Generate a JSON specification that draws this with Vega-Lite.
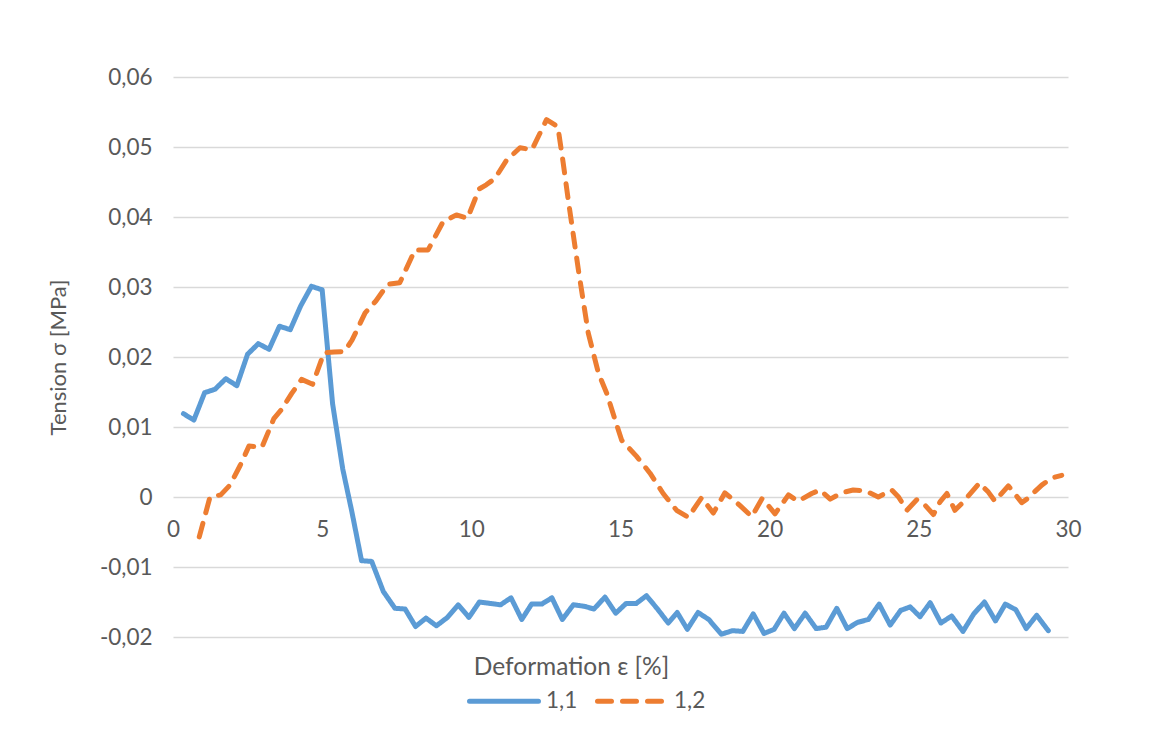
{
  "$schema": "https://vega.github.io/schema/vega-lite/v6.json",
  "width": 895,
  "height": 560,
  "autosize": "none",
  "padding": {"left": 173, "top": 77, "right": 81, "bottom": 98},
  "background": "white",
  "config": {
    "view": {"stroke": null},
    "font": "Lato",
    "axis": {"labelColor": "#595959", "titleColor": "#595959", "labelFont": "Lato", "titleFont": "Lato", "titleFontWeight": "normal"},
    "legend": {"labelColor": "#595959", "labelFont": "Lato"}
  },
  "data": {"values": [
    {"s": "1,1", "x": 0.35, "y": 0.0119},
    {"s": "1,1", "x": 0.70, "y": 0.0110},
    {"s": "1,1", "x": 1.06, "y": 0.0149},
    {"s": "1,1", "x": 1.41, "y": 0.0154},
    {"s": "1,1", "x": 1.77, "y": 0.0169},
    {"s": "1,1", "x": 2.14, "y": 0.0159},
    {"s": "1,1", "x": 2.50, "y": 0.0204},
    {"s": "1,1", "x": 2.86, "y": 0.0219},
    {"s": "1,1", "x": 3.22, "y": 0.0211},
    {"s": "1,1", "x": 3.57, "y": 0.0244},
    {"s": "1,1", "x": 3.93, "y": 0.0239},
    {"s": "1,1", "x": 4.28, "y": 0.0273},
    {"s": "1,1", "x": 4.64, "y": 0.0301},
    {"s": "1,1", "x": 5.00, "y": 0.0296},
    {"s": "1,1", "x": 5.35, "y": 0.0133},
    {"s": "1,1", "x": 5.69, "y": 0.0040},
    {"s": "1,1", "x": 6.00, "y": -0.0022},
    {"s": "1,1", "x": 6.32, "y": -0.0091},
    {"s": "1,1", "x": 6.66, "y": -0.0092},
    {"s": "1,1", "x": 7.05, "y": -0.0135},
    {"s": "1,1", "x": 7.44, "y": -0.0159},
    {"s": "1,1", "x": 7.78, "y": -0.0160},
    {"s": "1,1", "x": 8.13, "y": -0.0185},
    {"s": "1,1", "x": 8.48, "y": -0.0173},
    {"s": "1,1", "x": 8.83, "y": -0.0184},
    {"s": "1,1", "x": 9.20, "y": -0.0172},
    {"s": "1,1", "x": 9.56, "y": -0.0154},
    {"s": "1,1", "x": 9.92, "y": -0.0172},
    {"s": "1,1", "x": 10.27, "y": -0.0150},
    {"s": "1,1", "x": 10.62, "y": -0.0152},
    {"s": "1,1", "x": 10.98, "y": -0.0154},
    {"s": "1,1", "x": 11.33, "y": -0.0144},
    {"s": "1,1", "x": 11.69, "y": -0.0175},
    {"s": "1,1", "x": 12.02, "y": -0.0153},
    {"s": "1,1", "x": 12.36, "y": -0.0153},
    {"s": "1,1", "x": 12.70, "y": -0.0144},
    {"s": "1,1", "x": 13.05, "y": -0.0175},
    {"s": "1,1", "x": 13.42, "y": -0.0154},
    {"s": "1,1", "x": 13.77, "y": -0.0156},
    {"s": "1,1", "x": 14.11, "y": -0.0160},
    {"s": "1,1", "x": 14.48, "y": -0.0143},
    {"s": "1,1", "x": 14.84, "y": -0.0166},
    {"s": "1,1", "x": 15.19, "y": -0.0152},
    {"s": "1,1", "x": 15.53, "y": -0.0152},
    {"s": "1,1", "x": 15.87, "y": -0.0141},
    {"s": "1,1", "x": 16.24, "y": -0.0160},
    {"s": "1,1", "x": 16.60, "y": -0.0180},
    {"s": "1,1", "x": 16.90, "y": -0.0165},
    {"s": "1,1", "x": 17.24, "y": -0.0189},
    {"s": "1,1", "x": 17.60, "y": -0.0165},
    {"s": "1,1", "x": 17.96, "y": -0.0175},
    {"s": "1,1", "x": 18.38, "y": -0.0196},
    {"s": "1,1", "x": 18.75, "y": -0.0191},
    {"s": "1,1", "x": 19.10, "y": -0.0192},
    {"s": "1,1", "x": 19.45, "y": -0.0167},
    {"s": "1,1", "x": 19.81, "y": -0.0195},
    {"s": "1,1", "x": 20.15, "y": -0.0189},
    {"s": "1,1", "x": 20.48, "y": -0.0166},
    {"s": "1,1", "x": 20.83, "y": -0.0188},
    {"s": "1,1", "x": 21.19, "y": -0.0166},
    {"s": "1,1", "x": 21.56, "y": -0.0188},
    {"s": "1,1", "x": 21.89, "y": -0.0186},
    {"s": "1,1", "x": 22.25, "y": -0.0159},
    {"s": "1,1", "x": 22.60, "y": -0.0188},
    {"s": "1,1", "x": 22.95, "y": -0.0179},
    {"s": "1,1", "x": 23.31, "y": -0.0175},
    {"s": "1,1", "x": 23.67, "y": -0.0153},
    {"s": "1,1", "x": 24.04, "y": -0.0183},
    {"s": "1,1", "x": 24.39, "y": -0.0162},
    {"s": "1,1", "x": 24.71, "y": -0.0157},
    {"s": "1,1", "x": 25.04, "y": -0.0171},
    {"s": "1,1", "x": 25.38, "y": -0.0151},
    {"s": "1,1", "x": 25.74, "y": -0.0180},
    {"s": "1,1", "x": 26.10, "y": -0.0170},
    {"s": "1,1", "x": 26.48, "y": -0.0192},
    {"s": "1,1", "x": 26.84, "y": -0.0167},
    {"s": "1,1", "x": 27.20, "y": -0.0150},
    {"s": "1,1", "x": 27.57, "y": -0.0177},
    {"s": "1,1", "x": 27.90, "y": -0.0153},
    {"s": "1,1", "x": 28.25, "y": -0.0161},
    {"s": "1,1", "x": 28.60, "y": -0.0188},
    {"s": "1,1", "x": 28.95, "y": -0.0169},
    {"s": "1,1", "x": 29.34, "y": -0.0191},
    {"s": "1,2", "x": 0.88, "y": -0.0057},
    {"s": "1,2", "x": 1.24, "y": 0.0000},
    {"s": "1,2", "x": 1.60, "y": 0.0003},
    {"s": "1,2", "x": 1.91, "y": 0.0017},
    {"s": "1,2", "x": 2.25, "y": 0.0045},
    {"s": "1,2", "x": 2.55, "y": 0.0073},
    {"s": "1,2", "x": 2.98, "y": 0.0071},
    {"s": "1,2", "x": 3.38, "y": 0.0112},
    {"s": "1,2", "x": 3.62, "y": 0.0124},
    {"s": "1,2", "x": 3.98, "y": 0.0148},
    {"s": "1,2", "x": 4.31, "y": 0.0168},
    {"s": "1,2", "x": 4.68, "y": 0.0161},
    {"s": "1,2", "x": 5.06, "y": 0.0206},
    {"s": "1,2", "x": 5.40, "y": 0.0207},
    {"s": "1,2", "x": 5.75, "y": 0.0208},
    {"s": "1,2", "x": 6.00, "y": 0.0224},
    {"s": "1,2", "x": 6.44, "y": 0.0263},
    {"s": "1,2", "x": 6.80, "y": 0.0280},
    {"s": "1,2", "x": 7.20, "y": 0.0304},
    {"s": "1,2", "x": 7.60, "y": 0.0306},
    {"s": "1,2", "x": 8.11, "y": 0.0353},
    {"s": "1,2", "x": 8.55, "y": 0.0353},
    {"s": "1,2", "x": 9.05, "y": 0.0393},
    {"s": "1,2", "x": 9.50, "y": 0.0403},
    {"s": "1,2", "x": 9.87, "y": 0.0398},
    {"s": "1,2", "x": 10.26, "y": 0.0440},
    {"s": "1,2", "x": 10.50, "y": 0.0446},
    {"s": "1,2", "x": 10.79, "y": 0.0455},
    {"s": "1,2", "x": 11.18, "y": 0.0481},
    {"s": "1,2", "x": 11.63, "y": 0.0499},
    {"s": "1,2", "x": 12.03, "y": 0.0496},
    {"s": "1,2", "x": 12.52, "y": 0.0539},
    {"s": "1,2", "x": 12.90, "y": 0.0529},
    {"s": "1,2", "x": 13.08, "y": 0.0477},
    {"s": "1,2", "x": 13.25, "y": 0.0424},
    {"s": "1,2", "x": 13.59, "y": 0.0324},
    {"s": "1,2", "x": 13.92, "y": 0.0234},
    {"s": "1,2", "x": 14.26, "y": 0.0177},
    {"s": "1,2", "x": 14.54, "y": 0.0148},
    {"s": "1,2", "x": 14.82, "y": 0.0110},
    {"s": "1,2", "x": 15.04, "y": 0.0081},
    {"s": "1,2", "x": 15.54, "y": 0.0058},
    {"s": "1,2", "x": 15.99, "y": 0.0034},
    {"s": "1,2", "x": 16.43, "y": 0.0005},
    {"s": "1,2", "x": 16.88, "y": -0.0019},
    {"s": "1,2", "x": 17.27, "y": -0.0029},
    {"s": "1,2", "x": 17.72, "y": -0.0001},
    {"s": "1,2", "x": 18.11, "y": -0.0023},
    {"s": "1,2", "x": 18.50, "y": 0.0006},
    {"s": "1,2", "x": 19.00, "y": -0.0012},
    {"s": "1,2", "x": 19.40, "y": -0.0028},
    {"s": "1,2", "x": 19.75, "y": -0.0002},
    {"s": "1,2", "x": 20.18, "y": -0.0024},
    {"s": "1,2", "x": 20.63, "y": 0.0003},
    {"s": "1,2", "x": 20.95, "y": -0.0006},
    {"s": "1,2", "x": 21.41, "y": 0.0005},
    {"s": "1,2", "x": 21.69, "y": 0.0010},
    {"s": "1,2", "x": 22.03, "y": -0.0003},
    {"s": "1,2", "x": 22.42, "y": 0.0006},
    {"s": "1,2", "x": 22.80, "y": 0.0010},
    {"s": "1,2", "x": 23.20, "y": 0.0009},
    {"s": "1,2", "x": 23.64, "y": 0.0000},
    {"s": "1,2", "x": 24.09, "y": 0.0010},
    {"s": "1,2", "x": 24.32, "y": 0.0000},
    {"s": "1,2", "x": 24.60, "y": -0.0019},
    {"s": "1,2", "x": 24.93, "y": -0.0004},
    {"s": "1,2", "x": 25.13, "y": -0.0008},
    {"s": "1,2", "x": 25.49, "y": -0.0025},
    {"s": "1,2", "x": 25.71, "y": -0.0007},
    {"s": "1,2", "x": 25.94, "y": 0.0005},
    {"s": "1,2", "x": 26.21, "y": -0.0019},
    {"s": "1,2", "x": 26.49, "y": -0.0007},
    {"s": "1,2", "x": 27.03, "y": 0.0020},
    {"s": "1,2", "x": 27.33, "y": 0.0007},
    {"s": "1,2", "x": 27.55, "y": -0.0006},
    {"s": "1,2", "x": 28.00, "y": 0.0016},
    {"s": "1,2", "x": 28.45, "y": -0.0008},
    {"s": "1,2", "x": 28.62, "y": -0.0003},
    {"s": "1,2", "x": 29.12, "y": 0.0017},
    {"s": "1,2", "x": 29.45, "y": 0.0027},
    {"s": "1,2", "x": 29.79, "y": 0.0031}
  ]},
  "mark": {"type": "line", "strokeWidth": 5, "strokeCap": "round", "strokeJoin": "round"},
  "encoding": {
    "x": {
      "field": "x", "type": "quantitative",
      "scale": {"domain": [0, 30], "nice": false, "zero": false},
      "axis": {
        "values": [0, 5, 10, 15, 20, 25, 30],
        "offset": -140,
        "domain": false, "ticks": false, "grid": false,
        "labelFontSize": 22.5, "labelPadding": 21, "labelFlush": false,
        "title": "Deformation ε [%]",
        "titleFontSize": 24.5,
        "titleX": 398, "titleAlign": "center",
        "titleY": 158, "titleBaseline": "top"
      }
    },
    "y": {
      "field": "y", "type": "quantitative",
      "scale": {"domain": [-0.02, 0.06], "nice": false, "zero": false},
      "axis": {
        "values": [-0.02, -0.01, 0, 0.01, 0.02, 0.03, 0.04, 0.05, 0.06],
        "labelExpr": "abs(datum.value) < 1e-9 ? '0' : (datum.value < 0 ? '-' : '') + replace(format(abs(datum.value), '.2f'), '.', ',')",
        "domain": false, "ticks": false,
        "grid": true, "gridColor": "#D9D9D9", "gridWidth": 1.3,
        "labelFontSize": 22.5, "labelPadding": 21,
        "title": "Tension σ [MPa]",
        "titleFontSize": 22,
        "titleX": -115, "titleBaseline": "middle"
      }
    },
    "color": {
      "field": "s", "type": "nominal",
      "scale": {"domain": ["1,1", "1,2"], "range": ["#5B9BD5", "#ED7D31"]},
      "legend": {
        "title": null, "orient": "none", "direction": "horizontal",
        "legendX": 294, "legendY": 587,
        "symbolType": "stroke", "symbolSize": 4761, "symbolStrokeWidth": 5,
        "labelFontSize": 22.5, "labelOffset": 5, "columnPadding": 9,
        "encode": {"symbols": {"update": {"strokeCap": {"value": "round"}}}}
      }
    },
    "strokeDash": {
      "field": "s", "type": "nominal",
      "scale": {"domain": ["1,1", "1,2"], "range": [[1, 0], [14, 11]]},
      "legend": {
        "title": null, "orient": "none", "direction": "horizontal",
        "legendX": 294, "legendY": 587,
        "symbolType": "stroke", "symbolSize": 4761, "symbolStrokeWidth": 5,
        "labelFontSize": 22.5, "labelOffset": 5, "columnPadding": 9,
        "encode": {"symbols": {"update": {"strokeCap": {"value": "round"}}}}
      }
    }
  }
}
